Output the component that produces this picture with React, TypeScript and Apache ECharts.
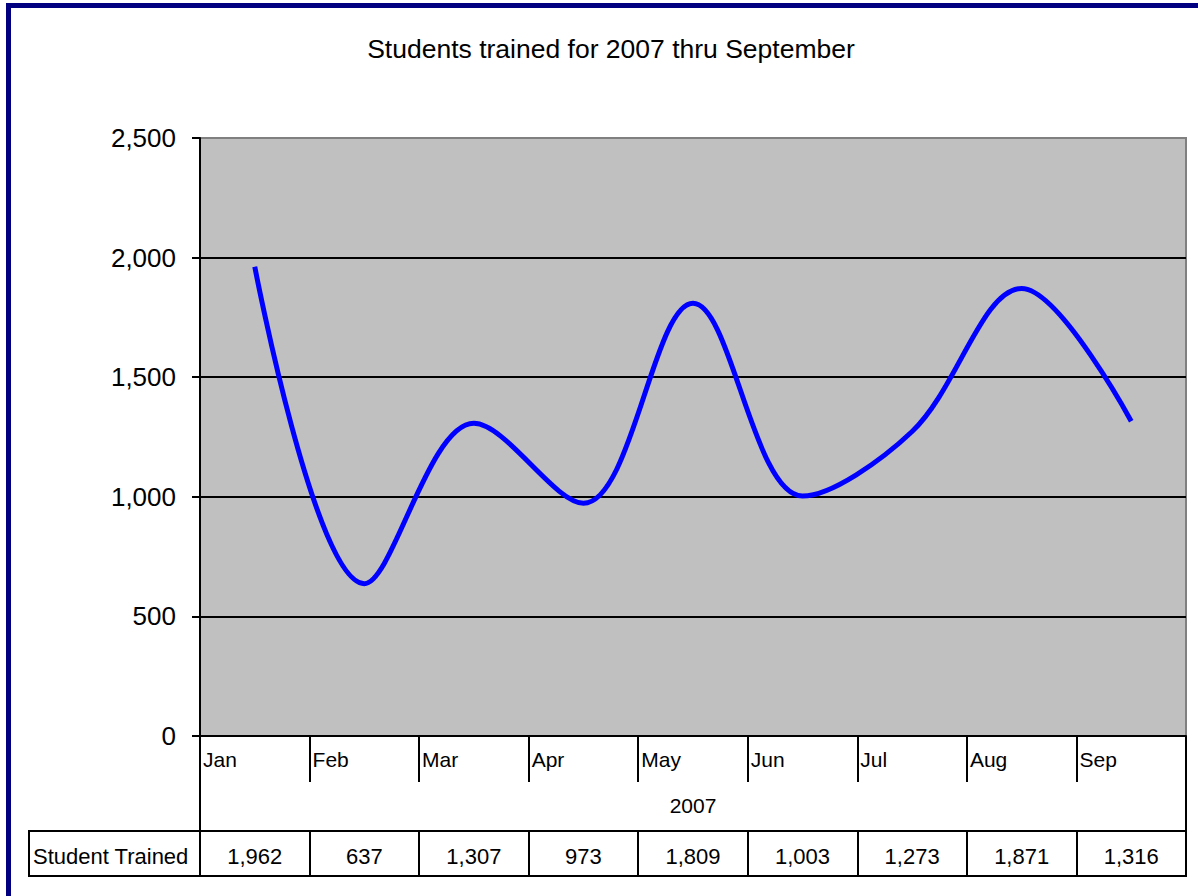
import React, { useEffect, useRef } from "react";
import * as echarts from "echarts";

const months = ["Jan", "Feb", "Mar", "Apr", "May", "Jun", "Jul", "Aug", "Sep"];
const studentsTrained = [1962, 637, 1307, 973, 1809, 1003, 1273, 1871, 1316];
const yTicks = { min: 0, max: 2500, interval: 500 };
const titleText = "Students trained for 2007 thru September";
const groupLabel = "2007";
const rowLabel = "Student Trained";

const FONT = "'Liberation Sans', Arial, sans-serif";
const fmt = (v: number) => v.toLocaleString("en-US");

export default function App() {
  const ref = useRef<HTMLDivElement>(null);
  useEffect(() => {
    if (!ref.current) return;
    const chart = echarts.init(ref.current, undefined, { renderer: "svg" });
    const valueLabels = studentsTrained.map(fmt);
    chart.setOption({
      animation: false,
      backgroundColor: "#ffffff",
      textStyle: { fontFamily: FONT },
      title: {
        text: titleText,
        left: 606,
        top: 30,
        textAlign: "center",
        textStyle: { fontFamily: FONT, fontSize: 26.5, fontWeight: "normal", color: "#000" },
      },
      grid: {
        left: 200,
        top: 138,
        width: 986,
        height: 598,
        show: true,
        backgroundColor: "#c0c0c0",
        borderColor: "#808080",
        borderWidth: 2,
      },
      xAxis: [
        {
          type: "category",
          data: months,
          boundaryGap: true,
          position: "bottom",
          axisLine: { show: true, lineStyle: { color: "#000", width: 2 } },
          axisTick: { show: true, interval: 0, length: 46, lineStyle: { color: "#000", width: 2 } },
          axisLabel: { show: false },
          splitLine: { show: false },
          name: groupLabel,
          nameLocation: "middle",
          nameGap: 59,
          nameTextStyle: { fontFamily: FONT, fontSize: 21, color: "#000" },
        },
        {
          type: "category",
          data: [...months, ""],
          boundaryGap: false,
          position: "bottom",
          axisLine: { show: false },
          axisTick: { show: false },
          axisLabel: {
            show: true,
            interval: 0,
            align: "left",
            margin: 13,
            padding: [0, 0, 0, 3],
            fontFamily: FONT,
            fontSize: 21,
            color: "#000",
          },
          splitLine: { show: false },
        },
        {
          type: "category",
          data: valueLabels,
          boundaryGap: true,
          position: "bottom",
          offset: 95,
          axisLine: { show: true, lineStyle: { color: "#000", width: 2 } },
          axisTick: { show: true, interval: 0, length: 45, lineStyle: { color: "#000", width: 2 } },
          axisLabel: {
            show: true,
            interval: 0,
            margin: 14,
            fontFamily: FONT,
            fontSize: 22,
            color: "#000",
          },
          splitLine: { show: false },
        },
      ],
      yAxis: {
        type: "value",
        min: yTicks.min,
        max: yTicks.max,
        interval: yTicks.interval,
        axisLine: { show: true, lineStyle: { color: "#000", width: 2 } },
        axisTick: { show: true, length: 8, lineStyle: { color: "#000", width: 2 } },
        axisLabel: {
          formatter: (v: number) => fmt(v),
          margin: 24,
          fontFamily: FONT,
          fontSize: 26,
          color: "#000",
        },
        splitLine: {
          show: true,
          lineStyle: {
            color: ["#000", "#000", "#000", "#000", "#000", "#808080"],
            width: 2,
          },
        },
      },
      series: [
        {
          type: "line",
          xAxisIndex: 0,
          data: studentsTrained,
          smooth: 0.35,
          symbol: "none",
          lineStyle: { color: "#0000ff", width: 5 },
          z: 5,
        },
      ],
      graphic: [
        {
          type: "rect",
          shape: { x: 8.5, y: 5.5, width: 1400, height: 1200 },
          style: { fill: "none", stroke: "#000080", lineWidth: 5 },
          silent: true,
        },
        {
          type: "rect",
          shape: { x: 29, y: 831, width: 1157, height: 45 },
          style: { fill: "none", stroke: "#000", lineWidth: 2 },
          silent: true,
        },
        {
          type: "line",
          shape: { x1: 200, y1: 736, x2: 200, y2: 876 },
          style: { stroke: "#000", lineWidth: 2 },
          silent: true,
        },
        {
          type: "line",
          shape: { x1: 1186, y1: 736, x2: 1186, y2: 876 },
          style: { stroke: "#000", lineWidth: 2 },
          silent: true,
        },
        {
          type: "text",
          left: 33,
          top: 845,
          style: { text: rowLabel, fontFamily: FONT, fontSize: 22, fill: "#000" },
          silent: true,
        },
      ],
    });
    return () => chart.dispose();
  }, []);
  return (
    <div
      ref={ref}
      style={{ position: "fixed", left: 0, top: 0, width: 1198, height: 896, background: "#fff" }}
    />
  );
}
